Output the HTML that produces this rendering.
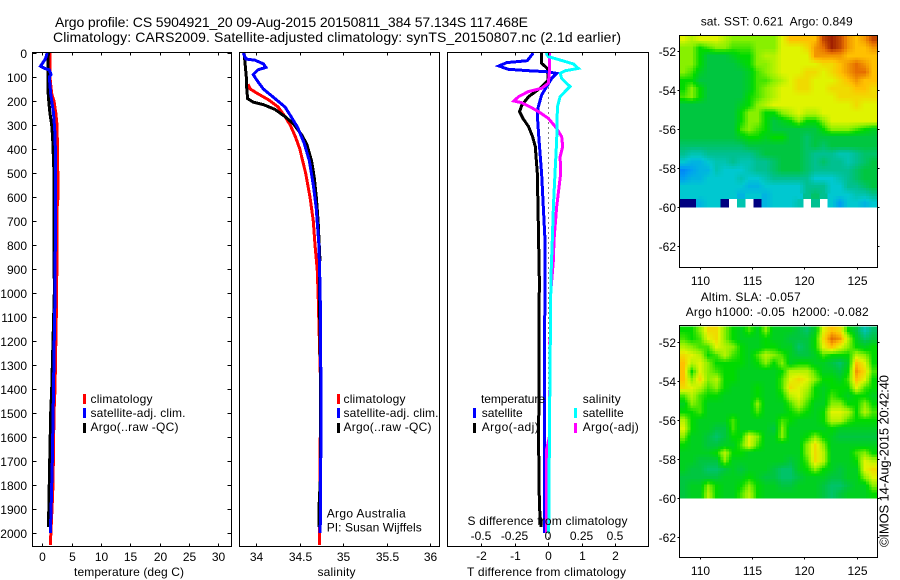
<!DOCTYPE html>
<html lang="en">
<head>
<meta charset="utf-8">
<title>Argo profile 5904921</title>
<style>
html,body{margin:0;padding:0;background:#fff;width:900px;height:580px;overflow:hidden}
svg{display:block}
text{font-family:"Liberation Sans",sans-serif;font-size:12px;fill:#000;white-space:pre}
.t{font-size:14px}
.s{font-size:13px}
polyline{fill:none;stroke-linejoin:miter;shape-rendering:crispEdges}
</style>
</head>
<body>
<svg id="chart" width="900" height="580" viewBox="0 0 900 580" xmlns="http://www.w3.org/2000/svg">
<rect width="900" height="580" fill="#fff"/>
<g id="maps"></g>
<g id="series"></g>
<g id="axes"></g>

<text class="t" x="55" y="27" textLength="473" lengthAdjust="spacing">Argo profile: CS 5904921_20 09-Aug-2015 20150811_384 57.134S 117.468E</text>
<text class="t" x="53" y="42" textLength="568" lengthAdjust="spacing">Climatology: CARS2009. Satellite-adjusted climatology: synTS_20150807.nc (2.1d earlier)</text>

<text x="74" y="576" textLength="110" lengthAdjust="spacing">temperature (deg C)</text>
<text x="317.5" y="576" textLength="38" lengthAdjust="spacing">salinity</text>
<text x="467" y="576" textLength="159" lengthAdjust="spacing">T difference from climatology</text>
<text x="467.5" y="525" textLength="160" lengthAdjust="spacing">S difference from climatology</text>

<g>
<rect x="83" y="394" width="3" height="10" fill="#f00"/>
<text x="90.5" y="403" textLength="62" lengthAdjust="spacing">climatology</text>
<rect x="83" y="408" width="3" height="10" fill="#00f"/>
<text x="90.5" y="417" textLength="95" lengthAdjust="spacing">satellite-adj. clim.</text>
<rect x="83" y="423" width="3" height="10" fill="#000"/>
<text x="90.5" y="431" textLength="88" lengthAdjust="spacing">Argo(..raw -QC)</text>
</g>

<g>
<rect x="337" y="394" width="3" height="10" fill="#f00"/>
<text x="343.5" y="403" textLength="62" lengthAdjust="spacing">climatology</text>
<rect x="337" y="408" width="3" height="10" fill="#00f"/>
<text x="343.5" y="417" textLength="95" lengthAdjust="spacing">satellite-adj. clim.</text>
<rect x="337" y="423" width="3" height="10" fill="#000"/>
<text x="343.5" y="431" textLength="88" lengthAdjust="spacing">Argo(..raw -QC)</text>
</g>
<text x="326.7" y="517.5" textLength="79" lengthAdjust="spacing">Argo Australia</text>
<text x="326.7" y="531.5" textLength="95" lengthAdjust="spacing">PI: Susan Wijffels</text>

<g>
<text x="481" y="403" textLength="64" lengthAdjust="spacing">temperature</text>
<rect x="473" y="408" width="3" height="10" fill="#00f"/>
<text x="481.7" y="417" textLength="41" lengthAdjust="spacing">satellite</text>
<rect x="473" y="423" width="3" height="10" fill="#000"/>
<text x="481.7" y="431" textLength="57" lengthAdjust="spacing">Argo(-adj)</text>
<text x="582.7" y="403" textLength="38" lengthAdjust="spacing">salinity</text>
<rect x="574" y="408" width="3" height="10" fill="#0ff"/>
<text x="582.7" y="417" textLength="41" lengthAdjust="spacing">satellite</text>
<rect x="574" y="423" width="3" height="10" fill="#f0f"/>
<text x="582.7" y="431" textLength="56" lengthAdjust="spacing">Argo(-adj)</text>
</g>

<text x="700.7" y="25.5" textLength="152" lengthAdjust="spacing">sat. SST: 0.621  Argo: 0.849</text>
<text x="700.7" y="301" textLength="100" lengthAdjust="spacing">Altim. SLA: -0.057</text>
<text x="685.7" y="316" textLength="183" lengthAdjust="spacing">Argo h1000: -0.05  h2000: -0.082</text>
<text class="s" transform="translate(888.5,547) rotate(-90)" x="0" y="0" textLength="172" lengthAdjust="spacing">©IMOS 14-Aug-2015 20:42:40</text>
</svg>

<script>
// ---- profile depths and values ----
const depthTicks = [0,100,200,300,400,500,600,700,800,900,1000,1100,1200,1300,1400,1500,1600,1700,1800,1900,2000];
const tempTicks = [0,5,10,15,20,25,30];
const salTicks = [34,34.5,35,35.5,36];
const salTickLabels = ['34','34.5','35','35.5','36'];
const tDiffTicks = [-2,-1,0,1,2];
const tDiffLabels = ['-2','-1','0','1','2'];
const sDiffTicks = [-0.5,-0.25,0,0.25,0.5];
const sDiffLabels = ['-0.5','-0.25','0','0.25','0.5'];
const latTicks = [52,54,56,58,60,62];
const lonTicks = [110,115,120,125];

const tempClimDepth = [0,100,170,200,250,300,420,600,650,1000,1400,1500,1800,1900,2050];
const tempClim = [1.3,1.3,1.6,2.0,2.3,2.5,2.6,2.67,2.5,2.45,2.17,2.0,1.83,1.65,1.37];
const tempArgoDepth = [0,100,180,250,300,350,500,600,1000,1400,1500,1700,1900,1975];
const tempArgo = [1.03,0.95,1.03,1.3,1.6,1.75,2.0,2.0,2.05,1.6,1.43,1.26,1.1,1.05];
const tempSatDepth = [0,25,55,65,70,90,100,170,250,350,600,1000,1400,1700,1900,2000];
const tempSat = [0.83,0.53,-0.3,0.5,1.2,1.48,1.2,1.43,1.9,2.2,2.27,2.17,1.9,1.7,1.5,1.37];

const salClimDepth = [130,150,170,195,225,265,300,350,400,500,600,700,800,900,1000,1400,2000,2050];
const salClim = [33.905,33.93,34.02,34.14,34.25,34.33,34.39,34.45,34.5,34.567,34.617,34.655,34.675,34.7,34.71,34.74,34.725,34.725];
const salArgoDepth = [0,100,145,190,205,215,235,265,295,340,380,450,520,600,700,850,1000,1400,1750,1900,1975];
const salArgo = [33.86,33.885,33.89,33.9,33.965,34.08,34.215,34.33,34.425,34.52,34.58,34.636,34.667,34.69,34.71,34.73,34.725,34.74,34.74,34.72,34.72];
const salSatDepth = [0,25,30,45,60,70,90,110,150,190,225,265,310,375,450,550,650,800,1000,1500,2000];
const salSat = [33.85,33.88,33.985,34.08,34.11,34.02,33.965,34.0,34.08,34.215,34.33,34.4,34.475,34.55,34.61,34.655,34.69,34.72,34.735,34.745,34.735];

const tDiffArgoDepth = [0,43,64,112,147,182,217,244,272,307,349,390,501,710,939,1380,1600,1800,1900,1975];
const tDiffArgo = [-0.19,-0.19,-0.02,0.01,-0.24,-0.58,-0.78,-0.85,-0.75,-0.58,-0.46,-0.38,-0.32,-0.29,-0.26,-0.27,-0.28,-0.27,-0.25,-0.21];
const tDiffSatDepth = [0,32,40,54,68,74,78,85,106,140,175,224,258,362,501,640,779,939,1380,2000];
const tDiffSat = [-0.44,-0.62,-1.23,-1.47,-1.18,-0.54,-0.04,0.26,0.11,-0.04,-0.19,-0.29,-0.32,-0.27,-0.19,-0.14,-0.09,-0.09,-0.11,-0.11];
const sDiffArgoDepth = [0,85,126,147,161,182,200,207,224,244,272,314,349,390,432,501,640,779,863,1000,1600,1650,2000];
const sDiffArgo = [0.01,0.01,0.002,-0.047,-0.147,-0.22,-0.254,-0.197,-0.134,-0.072,0.002,0.065,0.102,0.11,0.09,0.095,0.065,0.045,0.04,0.02,0.01,-0.01,-0.01];
const sDiffSatDepth = [0,15,29,46,64,74,85,106,140,161,182,224,362,501,640,779,939,1500,2000];
const sDiffSat = [-0.015,0.002,0.09,0.19,0.226,0.127,0.09,0.102,0.164,0.127,0.09,0.07,0.065,0.052,0.04,0.032,0.022,0.012,0.005];

// ---- map values: colour level by cell, north to south (null = no data, -1 = coast) ----
const sstRow00 = [7,6.5,7,7,7,6.5,6,6,6,6,6,6,7,8,8,8,8,9.5,10,9.5,8.5,8,8.5,9.5];
const sstRow01 = [6,6,5,5.5,6,6,5.5,5.5,5.5,6,6,6,7,7,7,7.5,8.5,9,10,9.5,8.5,8,8,8.5];
const sstRow02 = [6,6,5,4,4,4,4.5,5,5,6,6.5,6.5,7,7,7,7,8.5,8.5,8.5,8.5,8,8,8,8];
const sstRow03 = [6,6,5,4,4,4,4,4.5,5,6,6,6.5,7,7,7,7,7,7.5,7.5,8,8.5,9,8.5,8];
const sstRow04 = [6,5.5,4.5,4,4,4,4,4,4.5,5.5,6,6.5,7,7,7,7.5,7.5,7,7.5,8,8.5,9,9,8];
const sstRow05 = [5,5,4,4,4,4,4,4,4.5,5.5,5.5,6,6.5,7,7.5,7.5,7,7,7,7.5,8,8.5,8,8];
const sstRow06 = [5,6,5,4,4,4,4,4,4.5,5.5,6,6.5,7,7,7.5,7.5,7,7,7.5,7.5,7.5,8,8,7.5];
const sstRow07 = [5.5,6,5,4,4,4,4,4,5,5.5,6,6.5,7,7,7,7,7,7,7,7.5,7.5,7.5,7.5,7.5];
const sstRow08 = [4,4,4,4,4,4,4,4.5,5,6,6.5,7,7,7,7,7,7,7,7,7,7,7.5,7,7];
const sstRow09 = [4,4,4,4,4,4,4,5,6,6,5,5,6,6.5,7,6.5,6.5,7,7,7,7,7,7,7];
const sstRow10 = [4,4,4,4,4,4,4,5,6,6,5,4,4.5,5,6,5,5,6,7,7,7,7,7,7];
const sstRow11 = [4,4,4,4,4,4,4,5.5,6,5.5,5,4,4,4,4,4,4,5,6,6,6,5.5,5,4.5];
const sstRow12 = [4,4,4,4,4,4,4,4.5,5,5,4.5,5,5,4,4,3.5,4,4,4,4,4,4,4,4];
const sstRow13 = [3.5,3.5,3.5,3.5,3.5,3.5,3.5,3.5,4,4,4,4,4,4,4,3.5,4,3.5,4,4,4,4,4,4];
const sstRow14 = [3,2.5,2.5,3,3,3,3,3,3,3.5,4,4,4,4,4,3.5,3,3,3,2.5,2.5,3,3.5,3.5];
const sstRow15 = [2,1.5,1.5,2,2.5,2.5,3,2.5,2.5,3,3,3.5,4,4,4,3.5,3,3.5,3,3,2.5,3,3.5,4];
const sstRow16 = [0.5,1,1.5,1.5,2.5,2,2,2,2.5,3,3,3.5,4,4,4,3.5,3,3,3,3,3,3.5,4,4];
const sstRow17 = [1,1.5,1.5,2,2,2,2,2.5,2,2,2.5,3,3,3,3,3,2,2,2,2.5,3,3.5,4,4];
const sstRow18 = [2,2,2,2,2,2,2,2,1.5,1.5,2,2,2,2,2,3,3,3,2,2,3,3,3.5,4];
const sstRow19 = [2,2,2,2,2,2,2,1.5,2,2,1.5,2,2,2,2,3,3.5,3,2,2,2,2.5,2.5,3];
const sstRow20 = [-1,-1,1.5,2,2,-1,null,2.5,null,-1,1.5,2,2,2,2.5,null,3,null,2,1,2,2,1.5,2];
const sstRows = [sstRow00,sstRow01,sstRow02,sstRow03,sstRow04,sstRow05,sstRow06,sstRow07,sstRow08,sstRow09,sstRow10,sstRow11,sstRow12,sstRow13,sstRow14,sstRow15,sstRow16,sstRow17,sstRow18,sstRow19,sstRow20];

const slaRow00 = [5,5,6,7.5,7.5,6,5,4.5,5.5,4.5,6,4.5,4.5,4.5,4,3.5,4.5,7,8,7.5,5,4,2.5,3.5];
const slaRow01 = [5.5,5,5.5,7,7.5,6,5,4.5,4.5,4.5,5,4.5,4.5,4,4,4,5,7.5,9,8.5,6.5,4.5,3.5,4];
const slaRow02 = [6.5,6,5.5,5.5,7,6.5,6,5,4.5,4.5,5,5,4.5,4.5,3.5,4,5,7,8,7,6,5,4.5,5];
const slaRow03 = [7.5,7,6.5,5,5.5,6.5,5.5,5,4.5,5.5,6.5,6,5.5,4.5,4,4,4.5,5.5,5,5,5,6.5,6,5];
const slaRow04 = [8,6.5,7,6,5,5,5,5,4.5,5,6,5,6,4.5,5,5,4.5,4.5,4,3.5,4.5,8,7,5];
const slaRow05 = [8,5,7,6,5.5,5,5,4.5,4.5,4.5,4.5,4.5,5,6.5,6.5,6.5,5.5,4.5,4.5,4,5,8.5,7.5,5.5];
const slaRow06 = [8,6,7.5,6,6.5,5,5,4.5,4.5,4.5,4.5,4.5,5.5,7,7.5,7,6,5,5,4.5,5.5,8,7,5];
const slaRow07 = [7.5,7,6.5,5.5,6,5,4.5,4.5,4.5,5,4.5,4.5,5.5,7.5,7,6.5,5,4.5,5,5,5,7,5.5,5];
const slaRow08 = [5.5,6.5,5.5,5,5,4.5,4.5,4.5,4.5,5,4.5,4.5,5,6.5,7,6,5,4.5,5.5,5,4.5,5,5,4.5];
const slaRow09 = [4.5,6,5.5,4.5,4.5,4.5,4.5,4.5,4.5,6,4.5,4.5,4.5,5.5,6.5,5.5,4.5,4.5,6,6,5,5,6,5];
const slaRow10 = [5,5,5.5,4.5,4.5,4.5,4.5,4.5,4.5,5.5,4.5,4.5,4.5,5,5.5,5,4.5,5,7,7,6.5,5,6.5,5.5];
const slaRow11 = [6.5,5,4.5,4.5,4.5,4.5,5.5,4.5,4.5,4.5,4.5,4.5,5.5,5,4.5,4.5,4.5,5,6.5,6.5,5.5,5,5,5];
const slaRow12 = [7,5,4.5,4.5,4,4,5.5,4.5,4.5,4.5,4.5,4,6,4.5,4.5,4.5,4.5,4.5,5,4.5,4.5,4.5,4.5,4.5];
const slaRow13 = [6,4.5,4.5,4,3.5,4,5,5,7,6,4.5,4.5,6,4.5,4.5,5,6,5,4.5,4,4,4,4,4];
const slaRow14 = [5,4.5,4.5,4,4,4.5,4.5,5.5,7,5.5,4.5,4.5,4.5,4.5,4.5,6,7.5,6,4.5,4.5,4.5,4.5,4.5,4.5];
const slaRow15 = [4.5,4.5,4.5,4.5,5,6.5,5,5,4.5,4.5,4.5,4.5,4.5,4.5,4.5,6,7.5,6.5,4.5,4.5,4.5,5.5,6,5];
const slaRow16 = [4.5,4.5,4,4,4,6,4.5,4.5,4.5,4.5,4.5,4.5,4.5,4,4.5,5.5,7.5,6.5,4.5,4.5,4.5,5,7,6.5];
const slaRow17 = [4.5,4,4,3.5,3.5,4,4.5,4,4.5,4.5,4.5,4,3.5,3.5,4.5,5,6,5,4.5,4,4.5,4.5,7,7.5];
const slaRow18 = [4,4,4,4,4,4.5,4.5,4.5,5,4.5,4,4,3.5,3.5,4,4.5,4.5,4.5,4,4,4.5,4.5,6,7];
const slaRow19 = [4,4.5,4.5,6,5,4.5,4.5,5,6,5,4.5,4.5,4,4,4.5,4.5,4.5,4,3.5,3.5,4,4.5,4.5,6];
const slaRow20 = [4,4.5,4.5,6.5,5,4.5,4.5,5.5,6.5,5,4.5,4.5,4.5,4.5,4.5,4.5,4.5,4,3.5,4,4.5,4.5,4.5,5];
const slaRows = [slaRow00,slaRow01,slaRow02,slaRow03,slaRow04,slaRow05,slaRow06,slaRow07,slaRow08,slaRow09,slaRow10,slaRow11,slaRow12,slaRow13,slaRow14,slaRow15,slaRow16,slaRow17,slaRow18,slaRow19,slaRow20];

// ---- axis functions ----
const NS = 'http://www.w3.org/2000/svg';
const LAT_SCALE = 19.46;
const LON_SCALE = 10.47;
const yDepth = d => 53 + d * 0.24;
const xTemp = v => 42.3 + v * 5.87;
const xSal = v => 256.3 + (v - 34) * 87;
const xTDiff = v => 548 + v * 33.5;
const xSDiff = v => 548 + v * 134;
const xLon = v => 699.7 + (v - 110) * LON_SCALE;
const ySst = v => 51.3 + (v - 52) * LAT_SCALE;
const ySla = v => 342.3 + (v - 52) * LAT_SCALE;
const colorStops = [[0,112,255],[0,160,240],[0,200,208],[0,192,144],[0,198,64],[0,218,0],[136,240,0],[224,244,0],[255,192,0],[230,110,0],[160,32,0]];

function levelColor(v) {
  if (v === -1) return '#000080';
  const c = Math.max(0, Math.min(10, v));
  const i = Math.min(9, Math.floor(c));
  const f = c - i;
  const a = colorStops[i];
  const b = colorStops[i + 1];
  return 'rgb(' + a.map((ch, k) => Math.round(ch + (b[k] - ch) * f)).join(',') + ')';
}

const axesG = document.getElementById('axes');
const seriesG = document.getElementById('series');
const mapsG = document.getElementById('maps');

function addText(str, x, y, anchor, name) {
  const t = document.createElementNS(NS, 'text');
  t.setAttribute('x', x);
  t.setAttribute('y', y);
  t.setAttribute('text-anchor', anchor);
  t.textContent = str;
  
  
  axesG.appendChild(t);
}

function addSeg(x1, y1, x2, y2, name) {
  const l = document.createElementNS(NS, 'line');
  l.setAttribute('x1', x1);
  l.setAttribute('y1', y1);
  l.setAttribute('x2', x2);
  l.setAttribute('y2', y2);
  l.setAttribute('stroke', '#000');
  l.setAttribute('stroke-width', '1');
  l.setAttribute('shape-rendering', 'crispEdges');
  
  
  axesG.appendChild(l);
}

function addBox(x0, y0, x1, y1, name) {
  const r = document.createElementNS(NS, 'rect');
  r.setAttribute('x', x0);
  r.setAttribute('y', y0);
  r.setAttribute('width', x1 - x0);
  r.setAttribute('height', y1 - y0);
  r.setAttribute('fill', 'none');
  r.setAttribute('stroke', '#000');
  r.setAttribute('stroke-width', '1');
  r.setAttribute('shape-rendering', 'crispEdges');
  
  
  axesG.appendChild(r);
}

function addSeries(depths, values, xFn, color, width, name) {
  const p = document.createElementNS(NS, 'polyline');
  p.setAttribute('points', depths.map((d, i) => xFn(values[i]).toFixed(1) + ',' + yDepth(d).toFixed(1)).join(' '));
  p.setAttribute('stroke', color);
  p.setAttribute('stroke-width', width);
  
  
  seriesG.appendChild(p);
}

// ---- profile panels ----
const TOP = 52.5, BOTTOM = 546.5;

function drawProfileFrame(x0, x1, name) {
  addBox(x0, TOP, x1, BOTTOM, name);
}

drawProfileFrame(32.5, 231.5, 'temperature-panel-frame');
drawProfileFrame(239.5, 439.5, 'salinity-panel-frame');
drawProfileFrame(447.5, 648.5, 'difference-panel-frame');

depthTicks.forEach(d => {
  const y = Math.round(yDepth(d)) + 0.5;
  addSeg(32.5, y, 36.5, y, 'depth-tick');
  addSeg(227.5, y, 231.5, y, 'depth-tick-right');
  addText(String(d), 27, y + 4.5, 'end', 'depth-tick-label');
});

tempTicks.forEach(v => {
  const x = Math.round(xTemp(v)) + 0.5;
  addSeg(x, TOP, x, TOP + 3, 'temperature-tick-top');
  addSeg(x, BOTTOM - 3, x, BOTTOM, 'temperature-tick-bottom');
  addText(String(v), x, 561, 'middle', 'temperature-tick-label');
});

salTicks.forEach((v, i) => {
  const x = Math.round(xSal(v)) + 0.5;
  addSeg(x, TOP, x, TOP + 3, 'salinity-tick-top');
  addSeg(x, BOTTOM - 3, x, BOTTOM, 'salinity-tick-bottom');
  addText(salTickLabels[i], x, 561, 'middle', 'salinity-tick-label');
});

tDiffTicks.forEach((v, i) => {
  const x = Math.round(xTDiff(v)) + 0.5;
  addSeg(x, TOP, x, TOP + 3, 'difference-tick-top');
  addSeg(x, BOTTOM - 3, x, BOTTOM, 'difference-tick-bottom');
  addText(tDiffLabels[i], x, 560, 'middle', 't-difference-tick-label');
});

sDiffTicks.forEach((v, i) => {
  addText(sDiffLabels[i], xSDiff(v), 540, 'middle', 's-difference-tick-label');
});

addSeries(tempClimDepth, tempClim, xTemp, '#f00', 3, 'temperature-climatology-line');
addSeries(tempArgoDepth, tempArgo, xTemp, '#000', 3, 'temperature-argo-line');
addSeries(tempSatDepth, tempSat, xTemp, '#00f', 3, 'temperature-satellite-line');

addSeries(salClimDepth, salClim, xSal, '#f00', 3, 'salinity-climatology-line');
addSeries(salArgoDepth, salArgo, xSal, '#000', 3, 'salinity-argo-line');
addSeries(salSatDepth, salSat, xSal, '#00f', 3, 'salinity-satellite-line');

const zeroLine = document.createElementNS(NS, 'line');
zeroLine.setAttribute('x1', xTDiff(0) + 0.5);
zeroLine.setAttribute('x2', xTDiff(0) + 0.5);
zeroLine.setAttribute('y1', TOP);
zeroLine.setAttribute('y2', BOTTOM);
zeroLine.setAttribute('stroke', '#000');
zeroLine.setAttribute('stroke-width', '1');
zeroLine.setAttribute('stroke-dasharray', '1 4');


seriesG.appendChild(zeroLine);

addSeries(tDiffArgoDepth, tDiffArgo, xTDiff, '#000', 3, 't-difference-argo-line');
addSeries(tDiffSatDepth, tDiffSat, xTDiff, '#00f', 3, 't-difference-satellite-line');
addSeries(sDiffArgoDepth, sDiffArgo, xSDiff, '#f0f', 3, 's-difference-argo-line');
addSeries(sDiffSatDepth, sDiffSat, xSDiff, '#0ff', 3, 's-difference-satellite-line');

// ---- map panels ----
const LON0 = 108.05, LON1 = 126.95, LAT0 = 51.19, LAT1 = 60;
const NROWS = 21, NCOLS = 24;
const dLon = (LON1 - LON0) / NCOLS;
const dLat = (LAT1 - LAT0) / NROWS;
const SUB = 3;

function addCell(x, y, w, h, color, name) {
  const r = document.createElementNS(NS, 'rect');
  r.setAttribute('x', x.toFixed(2));
  r.setAttribute('y', y.toFixed(2));
  r.setAttribute('width', w.toFixed(2));
  r.setAttribute('height', h.toFixed(2));
  r.setAttribute('fill', color);
  r.setAttribute('shape-rendering', 'crispEdges');
  
  
  mapsG.appendChild(r);
}

function sampleRows(rows, fr, fc) {
  const r0 = Math.max(0, Math.min(NROWS - 1, Math.floor(fr)));
  const c0 = Math.max(0, Math.min(NCOLS - 1, Math.floor(fc)));
  const r1 = Math.min(NROWS - 1, r0 + 1);
  const c1 = Math.min(NCOLS - 1, c0 + 1);
  const corners = [rows[r0][c0], rows[r0][c1], rows[r1][c0], rows[r1][c1]];
  const tr = Math.max(0, Math.min(1, fr - r0));
  const tc = Math.max(0, Math.min(1, fc - c0));
  if (corners.some(v => v === null || v < 0)) {
    return rows[tr < 0.5 ? r0 : r1][tc < 0.5 ? c0 : c1];
  }
  const top = corners[0] * (1 - tc) + corners[1] * tc;
  const bot = corners[2] * (1 - tc) + corners[3] * tc;
  return top * (1 - tr) + bot * tr;
}

function drawMapCells(rows, yFn, name) {
  for (let j = 0; j < NROWS * SUB; j++) {
    for (let i = 0; i < NCOLS * SUB; i++) {
      const v = sampleRows(rows, (j + 0.5) / SUB - 0.5, (i + 0.5) / SUB - 0.5);
      if (v === null) continue;
      const x = xLon(LON0 + i * dLon / SUB);
      const y = yFn(LAT0 + j * dLat / SUB);
      addCell(x, y, dLon * LON_SCALE / SUB + 0.3, dLat * LAT_SCALE / SUB + 0.3, levelColor(v), name);
    }
  }
}

drawMapCells(sstRows, ySst, 'sst-cell');
drawMapCells(slaRows, ySla, 'sla-cell');

function drawMapAxes(yFn, y0, y1, labelY, prefix) {
  const x0 = 679.5, x1 = 877.5;
  addBox(x0, y0, x1, y1, prefix + '-map-frame');
  lonTicks.forEach(v => {
    const x = Math.round(xLon(v)) + 0.5;
    addSeg(x, y0 - 2, x, y0, prefix + '-lon-tick-top');
    addSeg(x, y1, x, y1 + 2, prefix + '-lon-tick-bottom');
    addText(String(v), x, labelY, 'middle', prefix + '-lon-tick-label');
  });
  latTicks.forEach(v => {
    const y = Math.round(yFn(v)) + 0.5;
    addSeg(x0 - 2, y, x0, y, prefix + '-lat-tick-left');
    addSeg(x1, y, x1 + 2, y, prefix + '-lat-tick-right');
    addText('-' + v, 676, y + 4.5, 'end', prefix + '-lat-tick-label');
  });
}

drawMapAxes(ySst, 35.5, 267.5, 285, 'sst');
drawMapAxes(ySla, 325.5, 557.5, 575, 'sla');
</script>
</body>
</html>
